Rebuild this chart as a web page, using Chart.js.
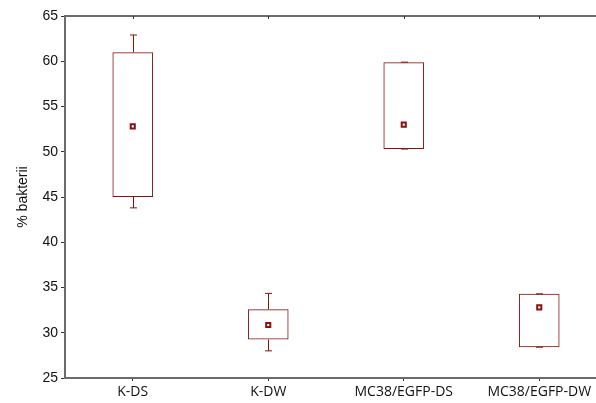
<!DOCTYPE html>
<html>
<head>
<meta charset="utf-8">
<script src="https://cdn.jsdelivr.net/npm/chart.js@4/dist/chart.umd.min.js"></script>
<style>
  html, body { margin: 0; padding: 0; background: #fff; overflow: hidden; }
  #wrap { width: 596px; height: 403px; overflow: hidden; }
</style>
</head>
<body>
<div id="wrap"><canvas id="box" width="620" height="403"></canvas></div>
<script>
const groups = ["K-DS", "K-DW", "MC38/EGFP-DS", "MC38/EGFP-DW"];
const means = [52.8, 30.85, 53.0, 32.8];
const boxLow = [45.0, 29.25, 50.3, 28.4];
const boxHigh = [61.0, 32.6, 59.9, 34.3];
const whiskLow = [43.8, 28.0, 50.3, 28.4];
const whiskHigh = [62.9, 34.35, 59.9, 34.3];
const yTicks = [25, 30, 35, 40, 45, 50, 55, 60, 65];

const red = "#8b1010";
const frame = "#6b6b6b";

// whiskers + top frame line drawn with the chart's own scales
const whiskers = {
  id: "whiskers",
  afterDatasetsDraw(chart) {
    const { ctx, scales, chartArea } = chart;
    const x = scales.x, y = scales.y;
    ctx.save();
    ctx.strokeStyle = red;
    ctx.lineWidth = 1;
    groups.forEach((g, i) => {
      const px = Math.round(x.getPixelForValue(i)) + 0.5;
      const segs = [[boxHigh[i], whiskHigh[i]], [boxLow[i], whiskLow[i]]];
      segs.forEach(([a, b]) => {
        const ya = y.getPixelForValue(a), yb = y.getPixelForValue(b);
        ctx.beginPath();
        ctx.moveTo(px, ya);
        ctx.lineTo(px, yb);
        ctx.moveTo(px - 3.5, yb);
        ctx.lineTo(px + 3.5, yb);
        ctx.stroke();
      });
    });
    // top border with small inward ticks
    ctx.strokeStyle = frame;
    ctx.lineWidth = 2;
    ctx.beginPath();
    ctx.moveTo(chartArea.left, chartArea.top);
    ctx.lineTo(chartArea.right + 20, chartArea.top);
    ctx.stroke();
    ctx.lineWidth = 1;
    ctx.strokeStyle = "#333";
    groups.forEach((g, i) => {
      const px = Math.round(x.getPixelForValue(i)) + 0.5;
      ctx.beginPath();
      ctx.moveTo(px, chartArea.top);
      ctx.lineTo(px, chartArea.top + 3);
      ctx.stroke();
    });
    ctx.restore();
  }
};

const ctx = document.getElementById("box").getContext("2d");
const chart = new Chart(ctx, {
  data: {
    labels: groups,
    datasets: [
      {
        type: "bar",
        data: groups.map((g, i) => [boxLow[i], boxHigh[i]]),
        backgroundColor: "rgba(255,255,255,0)",
        borderColor: red,
        borderWidth: 1,
        borderSkipped: false,
        barPercentage: 0.3,
        categoryPercentage: 1,
        order: 2
      },
      {
        type: "line",
        data: means,
        showLine: false,
        pointStyle: "rect",
        pointRadius: 2.9,
        pointBorderWidth: 2,
        pointBorderColor: red,
        pointBackgroundColor: "#fff",
        order: 1
      }
    ]
  },
  options: {
    responsive: false,
    animation: false,
    layout: { padding: { top: 16, right: 13, left: 0, bottom: 0 } },
    plugins: { legend: { display: false }, tooltip: { enabled: false } },
    scales: {
      x: {
        type: "category",
        offset: true,
        grid: { offset: false, drawOnChartArea: false, drawTicks: true, tickLength: 3, color: "#333" },
        border: { color: frame, width: 2 },
        ticks: {
          color: "#111",
          padding: 3,
          maxRotation: 0,
          autoSkip: false,
          font: { family: "'Open Sans'", size: 14 }
        },
        afterFit(scale) { scale.height = 25; }
      },
      y: {
        min: 25,
        max: 65,
        afterBuildTicks(scale) { scale.ticks = yTicks.map(v => ({ value: v })); },
        grid: { drawOnChartArea: false, drawTicks: true, tickLength: 4, color: "#333" },
        border: { color: frame, width: 2 },
        ticks: {
          color: "#111",
          padding: 3,
          font: { family: "'Liberation Sans'", size: 14 }
        },
        title: {
          display: true,
          text: "% bakterii",
          color: "#111",
          padding: { top: 15, bottom: 0 },
          font: { family: "'Liberation Sans'", size: 14 }
        },
        afterFit(scale) { scale.width = 65; }
      }
    }
  },
  plugins: [whiskers]
});
</script>
</body>
</html>
